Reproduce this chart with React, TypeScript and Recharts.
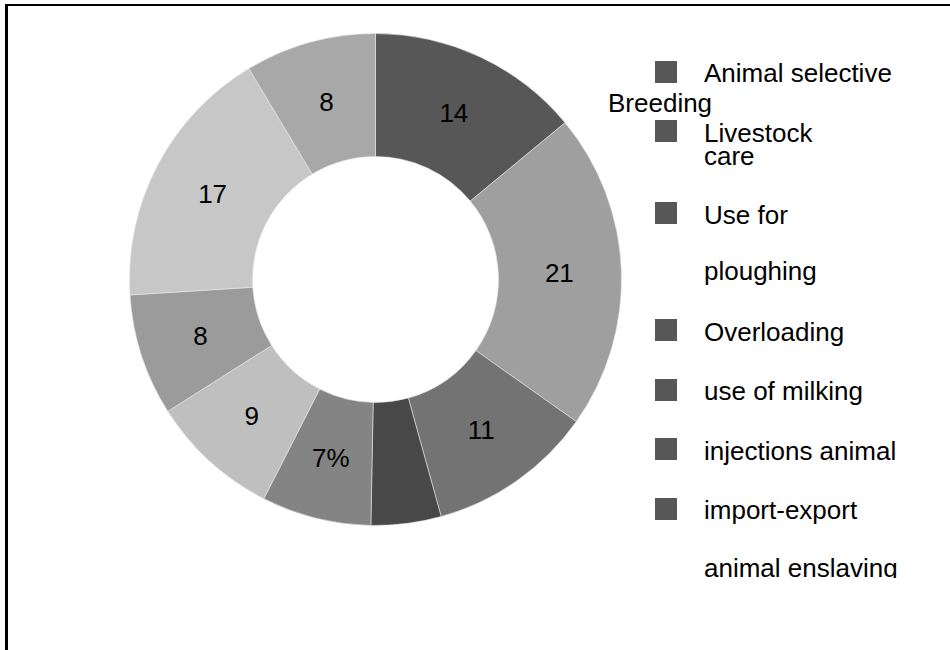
import React from "react";
import { PieChart, Pie, Cell, Legend } from "recharts";

// ---- data ----
const categories = [
  "Animal selective Breeding",
  "Livestock care",
  "Use for ploughing",
  "Overloading",
  "use of milking",
  "injections animal",
  "import-export animal enslaving",
  "other 1",
  "other 2",
];
const values = [14, 20.8, 10.9, 4.6, 7.2, 8.5, 8, 17.4, 8.6];
const sliceLabels = ["14", "21", "11", "", "7%", "9", "8", "17", "8"];
const sliceColors = [
  "#575757",
  "#9f9f9f",
  "#737373",
  "#484848",
  "#848484",
  "#bfbfbf",
  "#9b9b9b",
  "#c7c7c7",
  "#a8a8a8",
];
const legendLines: string[][] = [
  ["Animal selective", "Breeding"],
  ["Livestock", "care"],
  ["Use for", "ploughing"],
  ["Overloading"],
  ["use of milking"],
  ["injections animal"],
  ["import-export", "animal enslaving"],
];

// ---- layout (positions, not data) ----
const FONT = "'Liberation Sans', Arial, sans-serif";
const legendSquareTops = [61, 120, 202, 319, 379, 438, 498];
const legendBaselines: number[][] = [
  [82, 112],
  [142, 165],
  [224, 280],
  [341],
  [400],
  [460],
  [519, 577],
];
const legendLineX: number[][] = [
  [704, 608],
  [704, 704],
  [704, 704],
  [704],
  [704],
  [704],
  [704, 704],
];

const data = categories.map((name, i) => ({
  name,
  value: values[i],
  label: sliceLabels[i],
}));

const RADIAN = Math.PI / 180;

const renderLabel = (props: any) => {
  const { cx, cy, midAngle, index } = props;
  const r = 184;
  const x = cx + r * Math.cos(-midAngle * RADIAN);
  const y = cy + r * Math.sin(-midAngle * RADIAN);
  const t = sliceLabels[index];
  if (!t) return null;
  return (
    <text
      x={x}
      y={y}
      fill="#000"
      textAnchor="middle"
      dominantBaseline="central"
      fontFamily={FONT}
      fontSize={26}
    >
      {t}
    </text>
  );
};

const LegendContent = () => (
  <svg width={950} height={578} style={{ display: "block" }}>
    {legendLines.map((lines, i) => (
      <g key={i}>
        <rect x={655} y={legendSquareTops[i]} width={22} height={22} fill="#575757" />
        {lines.map((ln, j) => (
          <text
            key={j}
            x={legendLineX[i][j]}
            y={legendBaselines[i][j]}
            fontFamily={FONT}
            fontSize={26}
            fill="#000"
          >
            {ln}
          </text>
        ))}
      </g>
    ))}
  </svg>
);

export default function App() {
  return (
    <div
      style={{
        position: "absolute",
        left: 0,
        top: 0,
        width: 950,
        height: 650,
        background: "#fff",
        overflow: "hidden",
      }}
    >
      <PieChart width={950} height={650} margin={{ top: 0, right: 0, bottom: 0, left: 0 }}>
        <Pie
          data={data}
          dataKey="value"
          nameKey="name"
          cx={375.5}
          cy={279.5}
          innerRadius={123}
          outerRadius={246}
          startAngle={90}
          endAngle={-270}
          labelLine={false}
          label={renderLabel}
          stroke="#e6e6e6"
          strokeWidth={0.6}
          isAnimationActive={false}
        >
          {data.map((d, i) => (
            <Cell key={d.name} fill={sliceColors[i]} />
          ))}
        </Pie>
        <Legend
          layout="vertical"
          align="center"
          verticalAlign="middle"
          content={() => <LegendContent />}
          wrapperStyle={{ position: "absolute", left: 0, top: 0, width: 950, height: 578, overflow: "hidden" }}
        />
      </PieChart>
      <div style={{ position: "absolute", left: 5, top: 4, width: 945, height: 2, background: "#000" }} />
      <div style={{ position: "absolute", left: 5, top: 4, width: 3, height: 646, background: "#000" }} />
    </div>
  );
}
